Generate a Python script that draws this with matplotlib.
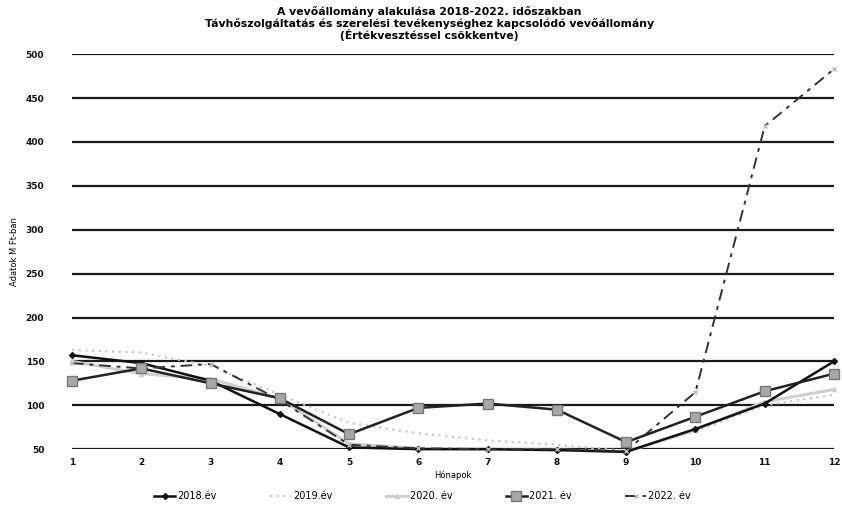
import matplotlib
matplotlib.use("Agg")
import matplotlib.pyplot as plt

# months and yearly receivable balances (M Ft)
honapok = list(range(1, 13))
ev_2018 = [157, 148, 128, 90, 52, 50, 50, 49, 47, 73, 102, 150]
ev_2019 = [163, 160, 145, 112, 80, 68, 60, 55, 48, 70, 100, 112]
ev_2020 = [150, 136, 130, 108, 56, 51, 50, 49, 47, 72, 104, 118]
ev_2021 = [128, 142, 125, 108, 67, 97, 102, 95, 58, 87, 116, 136]
ev_2022 = [148, 142, 147, 106, 55, 51, 50, 50, 48, 115, 418, 483]

y_ticks = [50, 100, 150, 200, 250, 300, 350, 400, 450, 500]

cim = ("A vevőállomány alakulása 2018-2022. időszakban\n"
       "Távhőszolgáltatás és szerelési tevékenységhez kapcsolódó vevőállomány\n"
       "(Értékvesztéssel csökkentve)")

fig = plt.figure(figsize=(8.42, 5.11), dpi=100)
ax = fig.add_axes([0.0855, 0.121, 0.905, 0.773])

# horizontal grid lines only, no frame
for v in y_ticks:
    ax.axhline(v, color="#1a1a1a", lw=1.6, zorder=1)
for s in ax.spines.values():
    s.set_visible(False)

ax.plot(honapok, ev_2018, color="#111111", lw=1.8, marker="D", ms=3,
        label="2018.év", zorder=4, clip_on=False)
ax.plot(honapok, ev_2019, color="#c8c8c8", lw=1.6, ls=(0, (1, 2)),
        label="2019.év", zorder=3, clip_on=False)
ax.plot(honapok, ev_2020, color="#d0d0d0", lw=2.2, marker="^", ms=3,
        label="2020. év", zorder=3, clip_on=False)
ax.plot(honapok, ev_2021, color="#222222", lw=1.8, marker="s", ms=7,
        mfc="#a8a8a8", mec="#777777", label="2021. év", zorder=5,
        clip_on=False)
ax.plot(honapok, ev_2022, color="#333333", lw=1.4, ls=(0, (6, 3, 2, 3)),
        marker="x", ms=3, mec="#bbbbbb", label="2022. év", zorder=4,
        clip_on=False)

ax.set_xlim(1, 12)
ax.set_ylim(50, 500)
ax.set_xticks(honapok)
ax.set_yticks(y_ticks)
ax.tick_params(axis="both", length=0, labelsize=6.5, colors="#111111")
ax.tick_params(axis="y", pad=20)
ax.tick_params(axis="x", pad=6)
for lab in ax.get_xticklabels() + ax.get_yticklabels():
    lab.set_fontweight("bold")

ax.set_ylabel("Adatok M Ft-ban", fontsize=6, labelpad=5)
ax.set_xlabel("Hónapok", fontsize=6, labelpad=3)

fig.text(0.51, 0.988, cim, ha="center", va="top", fontsize=7.8,
         fontweight="bold", linespacing=1.05)

ax.legend(loc="upper center", bbox_to_anchor=(0.46, -0.085), ncol=5,
          frameon=False, fontsize=7, columnspacing=5.5, handlelength=2.2,
          handletextpad=0.2)

fig.savefig("out.png", dpi=100)
